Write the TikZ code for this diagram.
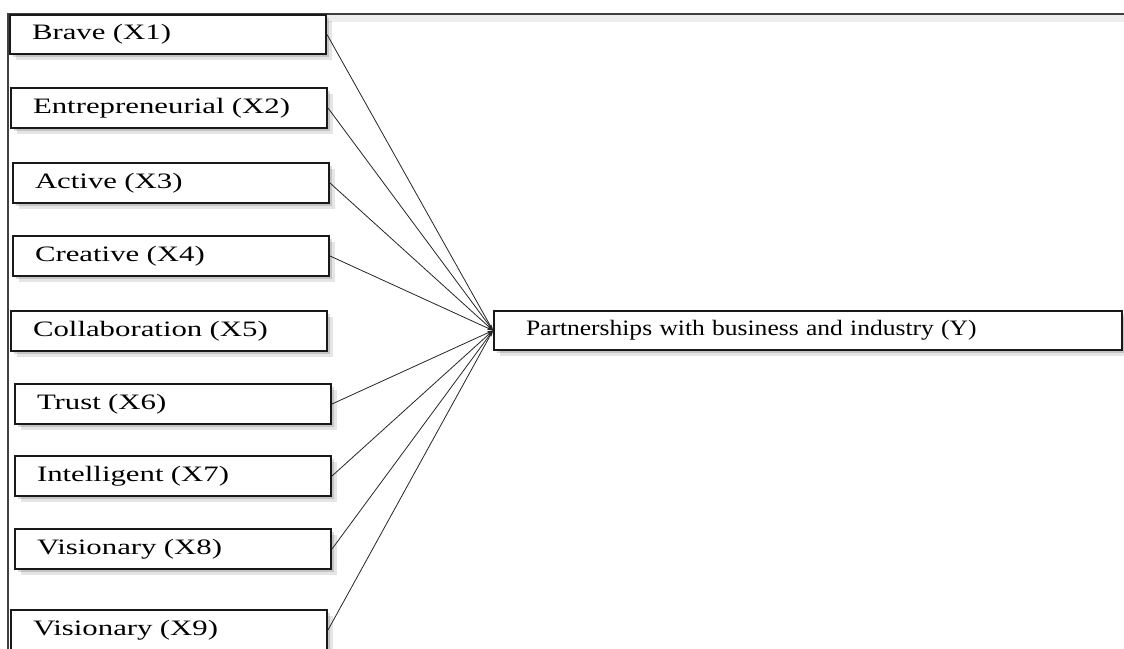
\documentclass[tikz,border=0pt]{standalone}
\usepackage{fontspec}
\setmainfont{Liberation Serif}
\newfontfamily\leftfont[FakeStretch=1.4]{Liberation Serif}
\newfontfamily\yfont[FakeStretch=1.16]{Liberation Serif}
\usetikzlibrary{shadows,arrows.meta}
\begin{document}
\begin{tikzpicture}[x=1pt,y=-1pt,
  bx/.style={draw=black!90, line width=2pt, fill=white,
    general shadow={fill=black, opacity=0.10, shadow xshift=6pt, shadow yshift=-6pt},
    general shadow={fill=black, opacity=0.14, shadow xshift=3pt, shadow yshift=-3pt},
    anchor=north west, inner ysep=0pt, inner xsep=22pt,
    minimum height=40pt, text width=272pt, align=left,
    font=\leftfont\fontsize{22}{26}\selectfont},
  ybx/.style={bx, inner xsep=32pt, text width=564pt, minimum height=39pt,
    font=\yfont\fontsize{22}{26}\selectfont},
  frame/.style={draw=black!75, line width=1.8pt},
  conn/.style={draw=black!85, line width=0.8pt, -{Stealth[length=6pt,width=3.5pt]}}
]
\useasboundingbox (0,0) rectangle (1124,648);
\fill[white] (0,0) rectangle (1124,648);
\fill[black, opacity=0.07] (8,15) rectangle (1124,22);
\draw[frame] (8,649) -- (8,14) -- (1124,14);

\node[bx, minimum height=39pt] (x1) at (9,14) {Brave (X1)};
\node[bx] (x2) at (10,87) {Entrepreneurial (X2)};
\node[bx] (x3) at (12,162) {Active (X3)};
\node[bx] (x4) at (12,235) {Creative (X4)};
\node[bx] (x5) at (10,310) {Collaboration (X5)};
\node[bx] (x6) at (14,383) {Trust (X6)};
\node[bx] (x7) at (14,455) {Intelligent (X7)};
\node[bx] (x8) at (14,528) {Visionary (X8)};
\node[bx] (x9) at (10,609) {Visionary (X9)};

\node[ybx] (y) at (493,310) {Partnerships with business and industry (Y)};

\foreach \i in {1,2,3,4,6,7,8,9}
  \draw[conn] (x\i.east) -- (y.west);
\end{tikzpicture}
\end{document}
